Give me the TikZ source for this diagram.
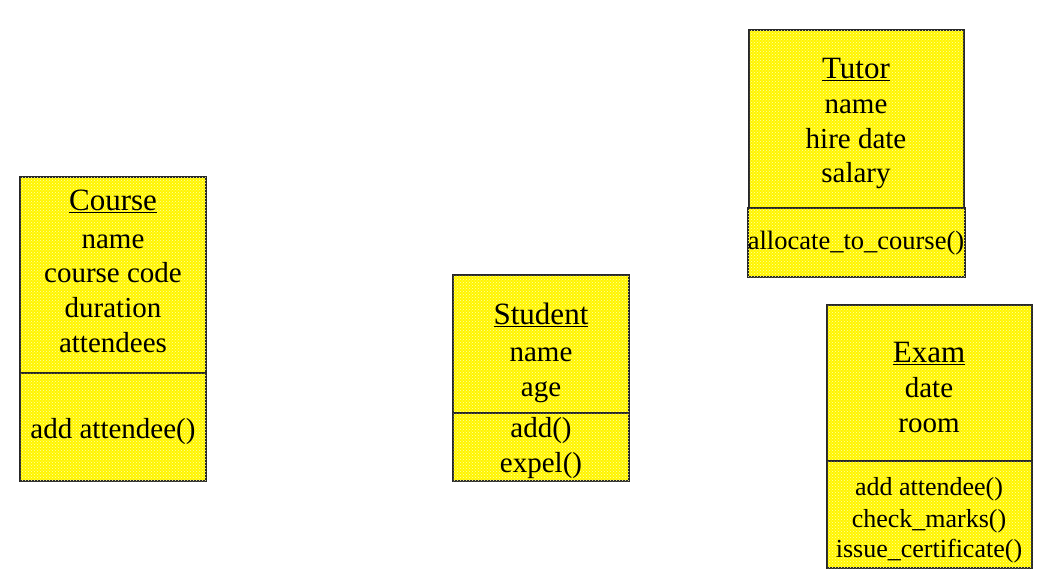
\documentclass[tikz,border=0pt]{standalone}
\usepackage{fontspec}
\setmainfont{Liberation Serif}
\usetikzlibrary{patterns}
\tikzset{
  classbox/.style={draw=black!85, line width=1.3pt, fill={rgb,255:red,255;green,245;blue,0},
    postaction={pattern=crosshatch dots, pattern color={rgb,255:red,255;green,255;blue,170}},
    anchor=north west, inner sep=0pt, outer sep=0pt},
  ttl/.style={anchor=base, inner sep=0pt, font=\fontsize{31}{35}\selectfont},
  attr/.style={anchor=base, inner sep=0pt, font=\fontsize{29}{35}\selectfont},
  meth/.style={anchor=base, inner sep=0pt, font=\fontsize{26}{30}\selectfont},
}
\begin{document}
\begin{tikzpicture}[x=1pt,y=-1pt]
\useasboundingbox (0,0) rectangle (1055,587);
% Course
\node[classbox, minimum width=186pt, minimum height=196pt] (courseA) at (20,177) {};
\node[classbox, minimum width=186pt, minimum height=108pt] (courseB) at (20,373) {};
\node[ttl]  (courseT)  at (113,210) {\underline{Course}};
\node[attr] (courseA1) at (113,248) {name};
\node[attr] (courseA2) at (113,282) {course code};
\node[attr] (courseA3) at (113,317) {duration};
\node[attr] (courseA4) at (113,352) {attendees};
\node[attr] (courseM1) at (113,438) {add attendee()};
% Student
\node[classbox, minimum width=176pt, minimum height=138pt] (studA) at (453,275) {};
\node[classbox, minimum width=176pt, minimum height=68pt] (studB) at (453,413) {};
\node[ttl]  (studT)  at (541,324) {\underline{Student}};
\node[attr] (studA1) at (541,361) {name};
\node[attr] (studA2) at (541,396) {age};
\node[attr] (studM1) at (541,437) {add()};
\node[attr] (studM2) at (541,472) {expel()};
% Tutor
\node[classbox, minimum width=215pt, minimum height=178pt] (tutA) at (749,30) {};
\node[classbox, minimum width=217pt, minimum height=69pt] (tutB) at (748,208) {};
\node[ttl]  (tutT)  at (856,78) {\underline{Tutor}};
\node[attr] (tutA1) at (856,113) {name};
\node[attr] (tutA2) at (856,148) {hire date};
\node[attr] (tutA3) at (856,182) {salary};
\node[meth, font=\fontsize{26.5}{30}\selectfont] (tutM1) at (856,249) {allocate\_to\_course()};
% Exam
\node[classbox, minimum width=205pt, minimum height=156pt] (examA) at (827,305) {};
\node[classbox, minimum width=205pt, minimum height=107pt] (examB) at (827,461) {};
\node[ttl]  (examT)  at (929,362) {\underline{Exam}};
\node[attr] (examA1) at (929,397) {date};
\node[attr] (examA2) at (929,432) {room};
\node[meth] (examM1) at (929,495) {add attendee()};
\node[meth] (examM2) at (929,527) {check\_marks()};
\node[meth] (examM3) at (929,557) {issue\_certificate()};
\end{tikzpicture}
\end{document}
